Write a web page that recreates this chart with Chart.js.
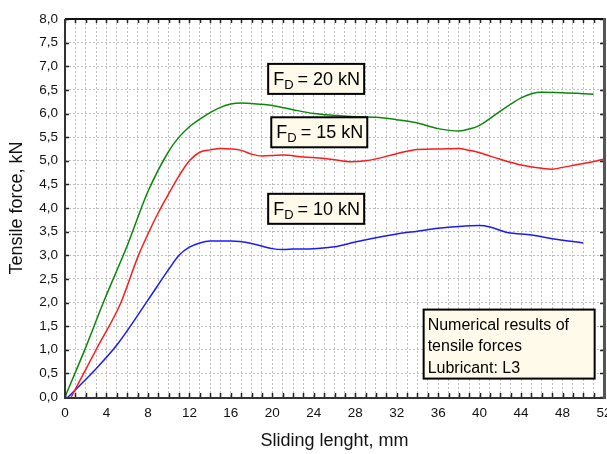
<!DOCTYPE html>
<html>
<head>
<meta charset="utf-8">
<script src="https://cdn.jsdelivr.net/npm/chart.js@4"></script>
<style>
html,body{margin:0;padding:0;background:#fff;}
#wrap{width:607px;height:454px;position:relative;}
</style>
</head>
<body>
<div id="wrap"><canvas id="c"></canvas></div>
<script>
// sliding length (mm) / tensile force (kN)
const x20=[0,2,3.7,6,8,10,11,12,13,14,15,16,17,18,20,22,24,26,28,30,32,34,36,38,39,40,42,44,45,46,48,51];
const y20=[0,1.05,2.0,3.2,4.35,5.2,5.5,5.72,5.88,6.02,6.13,6.2,6.22,6.21,6.17,6.08,6.0,5.96,5.93,5.92,5.87,5.8,5.68,5.63,5.67,5.75,6.05,6.33,6.42,6.45,6.44,6.41];
const x15=[0.6,3,5.4,6,7,8,9,10,11,12,13,14,15,16,17,18,19,21,23,25,26,27.5,29,30,32,34,36,38,39,40,42,44,46,47,48,50,52];
const y15=[0,1.0,2.0,2.35,2.95,3.45,3.9,4.3,4.68,5.0,5.18,5.23,5.26,5.25,5.22,5.14,5.1,5.12,5.08,5.05,5.02,4.98,5.0,5.04,5.15,5.24,5.25,5.26,5.22,5.17,5.03,4.91,4.84,4.82,4.86,4.94,5.03];
const x10=[0.3,3,5,8,10,11,12,13,14,16,18,20,21,22,24,26,28,30,32,34,36,38,40,41,42.7,45,47,50];
const y10=[0,0.6,1.1,2.05,2.7,3.0,3.17,3.26,3.3,3.3,3.25,3.14,3.12,3.13,3.14,3.18,3.28,3.37,3.45,3.51,3.57,3.61,3.63,3.6,3.48,3.43,3.35,3.26];
const seriesNames=['20 kN','15 kN','10 kN'];
const xMin=0,xMax=52,xStep=1,xLabelEvery=4;
const yMin=0,yMax=8,yStep=0.5;
// where each label box sits, in data units (left, top)
const boxAnchors=[[19.6,7.05],[19.9,5.92],[19.6,4.3]];

const FONT='"Liberation Sans", Arial, sans-serif';
const pts=(xs,ys)=>xs.map((x,i)=>({x,y:ys[i]}));

const frame={
  id:'frame',
  afterDatasetsDraw(ch){
    const {ctx,chartArea:a,scales:{x,y}}=ch;
    ctx.save();
    // inward ticks
    ctx.strokeStyle='#222';ctx.lineWidth=1.5;
    ctx.beginPath();
    x.ticks.forEach(t=>{
      const px=Math.round(x.getPixelForValue(t.value))+0.5;
      ctx.moveTo(px,a.top);ctx.lineTo(px,a.top+4);
      ctx.moveTo(px,a.bottom);ctx.lineTo(px,a.bottom-4);
    });
    y.ticks.forEach(t=>{
      const py=Math.round(y.getPixelForValue(t.value))+0.5;
      ctx.moveTo(a.left,py);ctx.lineTo(a.left+4,py);
      ctx.moveTo(a.right,py);ctx.lineTo(a.right-4,py);
    });
    ctx.stroke();
    // border
    ctx.lineWidth=2;ctx.strokeStyle='#111';
    ctx.beginPath();ctx.moveTo(a.left,a.top);ctx.lineTo(a.right,a.top);ctx.stroke();
    ctx.strokeStyle='#333';
    ctx.beginPath();ctx.moveTo(a.left,a.top);ctx.lineTo(a.left,a.bottom+1);ctx.lineTo(a.right,a.bottom+1);ctx.stroke();
    ctx.lineWidth=3;ctx.strokeStyle='#555';
    ctx.beginPath();ctx.moveTo(a.right+0.5,a.top-1);ctx.lineTo(a.right+0.5,a.bottom+2);ctx.stroke();

    // F_D label boxes
    boxAnchors.forEach((b,i)=>{
      const bx=x.getPixelForValue(b[0]),by=y.getPixelForValue(b[1]);
      const w=96,h=30;
      ctx.fillStyle='#fffaea';ctx.fillRect(bx,by,w,h);
      ctx.lineWidth=2;ctx.strokeStyle='#000';ctx.strokeRect(bx,by,w,h);
      ctx.fillStyle='#000';ctx.textBaseline='alphabetic';ctx.textAlign='left';
      let tx=bx+5;const base=by+21;
      ctx.font='18px '+FONT;ctx.fillText('F',tx,base);tx+=ctx.measureText('F').width;
      ctx.font='13px '+FONT;ctx.fillText('D',tx,base+4);tx+=ctx.measureText('D').width;
      ctx.font='18px '+FONT;ctx.fillText(' = '+seriesNames[i],tx-1,base);
    });

    // note box
    const nx=x.getPixelForValue(34.6),ny=y.getPixelForValue(1.85);
    const nw=171,nh=69;
    ctx.fillStyle='#fffaea';ctx.fillRect(nx,ny,nw,nh);
    ctx.lineWidth=2;ctx.strokeStyle='#000';ctx.strokeRect(nx,ny,nw,nh);
    ctx.fillStyle='#000';ctx.font='16px '+FONT;
    ['Numerical results of','tensile forces','Lubricant: L3'].forEach((s,k)=>ctx.fillText(s,nx+4,ny+20+k*21.5));
    ctx.restore();
  }
};

new Chart(document.getElementById('c'),{
  type:'line',
  data:{datasets:[
    {label:seriesNames[0],data:pts(x20,y20),borderColor:'#0c870c'},
    {label:seriesNames[1],data:pts(x15,y15),borderColor:'#ff1a1a'},
    {label:seriesNames[2],data:pts(x10,y10),borderColor:'#1a1aff'}
  ].map(d=>Object.assign(d,{borderWidth:1.5,pointRadius:0,fill:false,cubicInterpolationMode:'monotone'}))},
  options:{
    responsive:true,maintainAspectRatio:false,animation:false,
    layout:{padding:{top:19,right:3,left:0,bottom:0}},
    plugins:{legend:{display:false},tooltip:{enabled:false}},
    scales:{
      x:{type:'linear',min:xMin,max:xMax,
        afterFit(s){s.height=57;s.paddingLeft=0;s.paddingRight=0;},
        border:{display:false,dash:[2,2]},
        grid:{color:'#bdbdbd',lineWidth:1,drawTicks:false},
        ticks:{stepSize:xStep,autoSkip:false,maxRotation:0,padding:8,color:'#111',font:{family:FONT,size:13.5},
          callback:v=>v%xLabelEvery===0?String(v):''},
        title:{display:true,text:'Sliding lenght, mm',color:'#111',font:{family:FONT,size:18},padding:{top:0,bottom:2}}
      },
      y:{min:yMin,max:yMax,
        afterFit(s){s.width=65;s.paddingTop=0;s.paddingBottom=0;},
        border:{display:false,dash:[2,2]},
        grid:{color:'#bdbdbd',lineWidth:1,drawTicks:false},
        ticks:{stepSize:yStep,padding:7,color:'#111',font:{family:FONT,size:13.5},
          callback:v=>v.toFixed(1).replace('.',',')},
        title:{display:true,text:'Tensile force, kN',color:'#111',font:{family:FONT,size:18},padding:{top:6,bottom:0}}
      }
    }
  },
  plugins:[frame]
});
</script>
</body>
</html>
